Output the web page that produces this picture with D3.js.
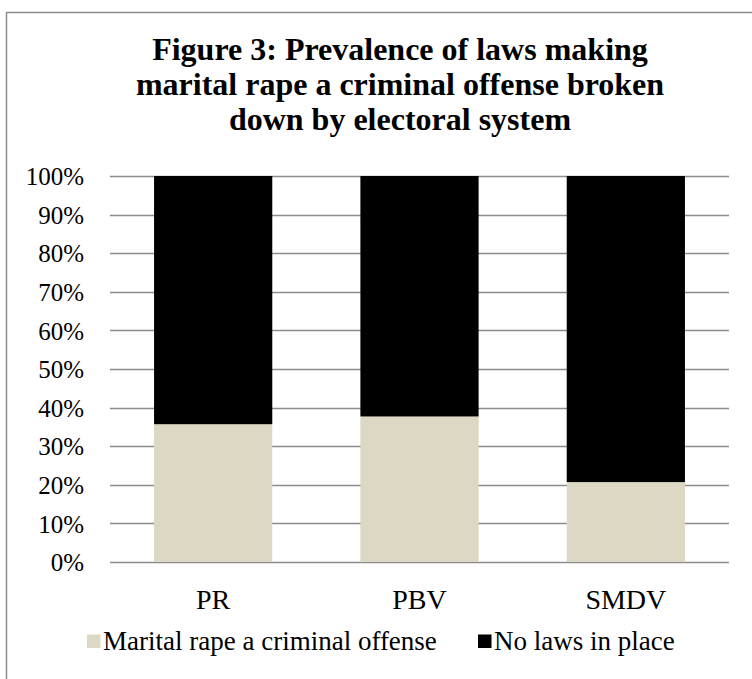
<!DOCTYPE html>
<html>
<head>
<meta charset="utf-8">
<script src="https://cdn.jsdelivr.net/npm/d3@7"></script>
<style>
  html, body { margin: 0; padding: 0; background: #fff; }
  svg { display: block; }
  text { font-family: "Liberation Serif", "Times New Roman", serif; fill: #000; }
</style>
</head>
<body>
<svg id="chart" width="752" height="679"></svg>
<script>
// Electoral systems and share of countries with / without marital-rape laws (%)
const categories = ["PR", "PBV", "SMDV"];
const criminalOffense = [35.7, 37.7, 20.7];
const noLaws = [64.3, 62.3, 79.3];
const seriesNames = ["Marital rape a criminal offense", "No laws in place"];
const seriesColors = ["#ddd8c4", "#000000"];
const yTicks = [0, 10, 20, 30, 40, 50, 60, 70, 80, 90, 100];
const titleLines = [
  "Figure 3: Prevalence of laws making",
  "marital rape a criminal offense broken",
  "down by electoral system"
];

const svg = d3.select("#chart");
const W = 752, H = 679;
const SERIF = "'Liberation Serif', 'Times New Roman', serif";
const tickSize = "25px";
const catSize = "28px";
const legendSize = "27px";

// outer frame
svg.append("rect")
  .attr("x", 6.5).attr("y", 12.5)
  .attr("width", W).attr("height", H)
  .attr("fill", "none").attr("stroke", "#8c8c8c").attr("stroke-width", 1.5);

// title
svg.append("g").selectAll("text").data(titleLines).join("text")
  .attr("x", 400).attr("y", (d, i) => 60 + i * 35)
  .attr("text-anchor", "middle")
  .style("font-size", "32px").style("font-weight", "bold")
  .text(d => d);

const plot = { left: 110, right: 729, top: 176, bottom: 562 };

const x = d3.scaleBand().domain(categories)
  .range([plot.left, plot.right]).paddingInner(0.427).paddingOuter(0.2135);
const y = d3.scaleLinear().domain([0, 100]).range([plot.bottom, plot.top]);

// gridlines
svg.append("g").selectAll("line").data(yTicks).join("line")
  .attr("x1", plot.left).attr("x2", plot.right)
  .attr("y1", d => Math.round(y(d)) + 0.5).attr("y2", d => Math.round(y(d)) + 0.5)
  .attr("stroke", "#8c8c8c").attr("stroke-width", 1.5);

// y axis labels
const yAxis = d3.axisLeft(y).tickValues(yTicks).tickSize(0).tickPadding(0)
  .tickFormat(d => d + "%");
const ya = svg.append("g").attr("transform", "translate(84,0)").call(yAxis)
  .attr("font-family", SERIF).attr("font-size", tickSize);
ya.select(".domain").remove();
ya.selectAll("text").attr("fill", "#000").attr("dy", "0.35em");

// stacked bars
const rows = categories.map((c, i) => ({ cat: c, a: criminalOffense[i], b: noLaws[i] }));
const stack = d3.stack().keys(["a", "b"])(rows);
svg.append("g").selectAll("g").data(stack).join("g")
  .attr("fill", (d, i) => seriesColors[i])
  .selectAll("rect").data(d => d).join("rect")
  .attr("x", d => x(d.data.cat))
  .attr("width", x.bandwidth())
  .attr("y", d => y(d[1]))
  .attr("height", d => y(d[0]) - y(d[1]));

// category labels
const xAxis = d3.axisBottom(x).tickSize(0).tickPadding(0);
const xa = svg.append("g").attr("transform", "translate(0,599)").call(xAxis)
  .attr("font-family", SERIF).attr("font-size", catSize);
xa.select(".domain").remove();
xa.selectAll("text").attr("fill", "#000").attr("dy", "0.35em");

// legend
const legendX = [87, 478];
const lg = svg.append("g").selectAll("g").data(seriesNames).join("g")
  .attr("transform", (d, i) => `translate(${legendX[i]},641)`);
lg.append("rect").attr("x", 0).attr("y", -6.5).attr("width", 13.5).attr("height", 13.5)
  .attr("fill", (d, i) => seriesColors[i]);
lg.append("text").attr("x", 16).attr("dy", "0.35em")
  .style("font-size", legendSize).text(d => d);
</script>
</body>
</html>
